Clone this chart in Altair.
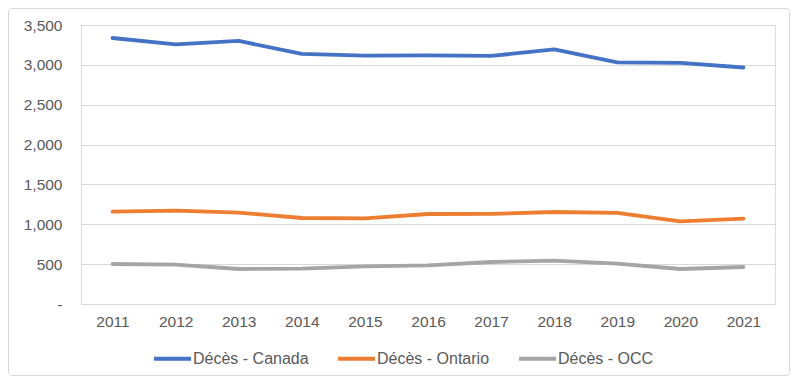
import altair as alt
import pandas as pd

years = [2011, 2012, 2013, 2014, 2015, 2016, 2017, 2018, 2019, 2020, 2021]
canada = [3337, 3256, 3300, 3137, 3115, 3118, 3112, 3193, 3030, 3024, 2967]
ontario = [1158, 1171, 1146, 1079, 1075, 1129, 1130, 1154, 1142, 1037, 1070]
occ = [502, 493, 439, 443, 473, 485, 527, 543, 506, 439, 464]
series = ["Décès - Canada", "Décès - Ontario", "Décès - OCC"]
colors = ["#4472C4", "#ED7D31", "#A5A5A5"]
y_ticks = [0, 500, 1000, 1500, 2000, 2500, 3000, 3500]

rows = []
for name, vals in zip(series, [canada, ontario, occ]):
    for yr, v in zip(years, vals):
        rows.append({"Année": str(yr), "Série": name, "Valeur": v})
df = pd.DataFrame(rows)

W, H = 694, 279
FONT = "Liberation Sans"

lines = alt.Chart(df).mark_line(strokeWidth=3.8, strokeCap="round", strokeJoin="round").encode(
    x=alt.X("Année:O", scale=alt.Scale(type="point", padding=0.5),
            axis=alt.Axis(title=None, labelAngle=0, ticks=False, domain=False, grid=False,
                          labelPadding=10, labelFontSize=15.5, labelColor="#595959", labelFont=FONT)),
    y=alt.Y("Valeur:Q", scale=alt.Scale(domain=[0, 3500]),
            axis=alt.Axis(title=None, values=y_ticks, ticks=False, domain=False, grid=True,
                          gridColor="#D9D9D9", gridWidth=1, labelPadding=19,
                          labelFontSize=15.5, labelColor="#595959", labelFont=FONT,
                          labelExpr="datum.value == 0 ? '-\u00a0\u00a0' : format(datum.value, ',')")),
    color=alt.Color("Série:N", scale=alt.Scale(domain=series, range=colors),
                    legend=alt.Legend(title=None, orient="none", direction="horizontal",
                                      legendX=71, legendY=313,
                                      symbolType="stroke", symbolSize=1369, symbolStrokeWidth=4,
                                      labelFontSize=16, labelColor="#595959", labelFont=FONT,
                                      labelOffset=0, columnPadding=21)),
    order=alt.Order("Année:O"),
)

frame = alt.Chart(pd.DataFrame({"a": [0]})).mark_rect(
    filled=False, stroke="#D9D9D9", strokeWidth=1, cornerRadius=3
).encode(
    x=alt.value(-72.5), x2=alt.value(708.5), y=alt.value(-16.5), y2=alt.value(350.5)
)

chart = alt.layer(frame, lines).properties(
    width=W, height=H,
    autosize=alt.AutoSizeParams(type="none"),
    padding={"left": 73, "top": 17, "right": 15, "bottom": 72},
).configure_view(stroke=None).configure(background="white")

chart.save("out.html", embed_options={"renderer": "svg", "actions": False})
